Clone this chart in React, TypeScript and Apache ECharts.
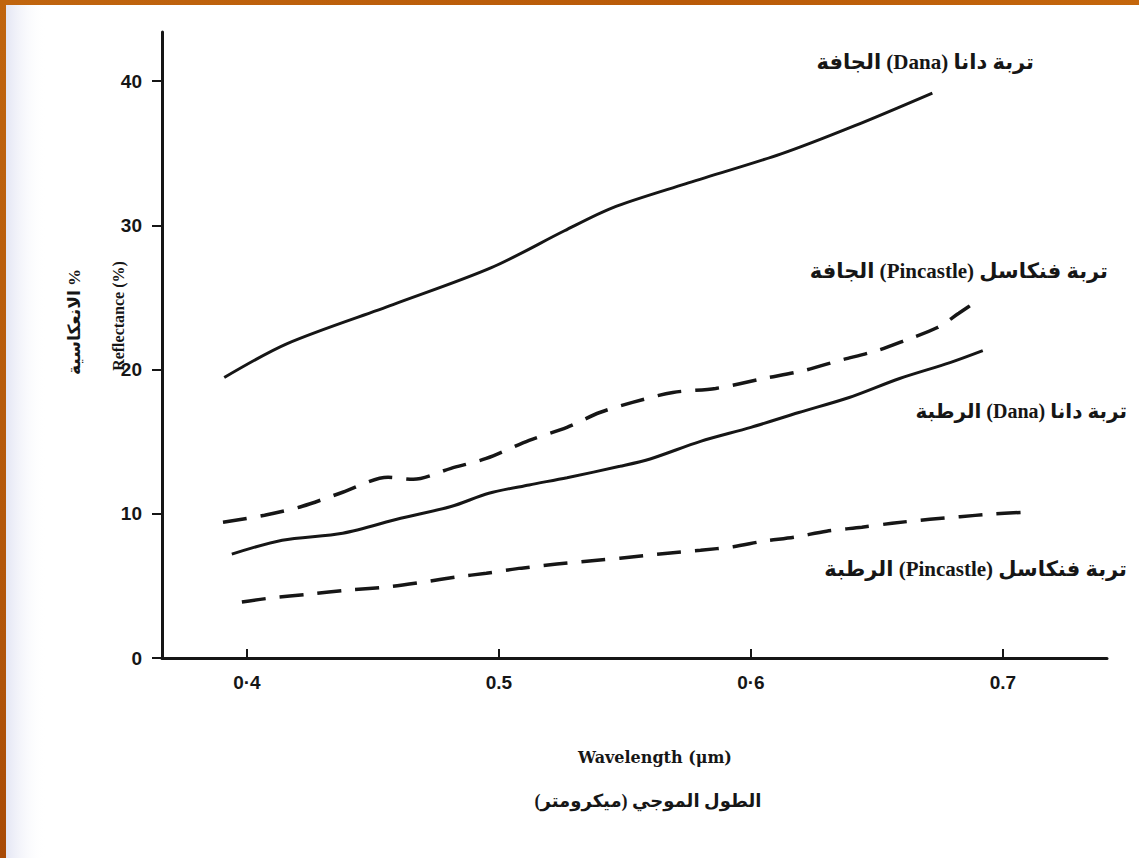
import React, { useEffect, useRef } from "react";
import * as echarts from "echarts";

// Spectral reflectance of dry and wet soils (Dana, Pincastle) vs wavelength
const wavelengthTicks = [0.4, 0.5, 0.6, 0.7];
const wavelengthTickLabels = ["0·4", "0.5", "0·6", "0.7"];
const reflectanceTicks = [0, 10, 20, 30, 40];

const danaDry: [number, number][] = [
  [0.391, 19.45], [0.416, 21.8], [0.458, 24.5], [0.497, 27.06], [0.526, 29.62],
  [0.545, 31.21], [0.574, 32.87], [0.612, 34.95], [0.641, 36.89], [0.672, 39.17],
];

const pincastleDry: [number, number][] = [
  [0.3905, 9.41], [0.407, 9.9], [0.422, 10.52], [0.438, 11.49], [0.456, 12.53],
  [0.466, 12.39], [0.481, 13.15], [0.495, 13.84], [0.512, 15.09], [0.527, 15.99],
  [0.540, 17.02], [0.553, 17.72], [0.569, 18.41], [0.586, 18.69], [0.605, 19.38],
  [0.621, 19.93], [0.635, 20.62], [0.650, 21.31], [0.661, 22.01], [0.674, 22.91],
  [0.6825, 23.9], [0.691, 24.9],
];

const danaWet: [number, number][] = [
  [0.394, 7.2], [0.414, 8.17], [0.438, 8.65], [0.461, 9.69], [0.481, 10.5],
  [0.496, 11.42], [0.512, 12.0], [0.527, 12.5], [0.548, 13.29], [0.560, 13.8],
  [0.580, 15.02], [0.600, 15.99], [0.619, 17.02], [0.639, 18.06], [0.659, 19.38],
  [0.679, 20.48], [0.692, 21.31],
];

const pincastleWet: [number, number][] = [
  [0.398, 3.88], [0.409, 4.15], [0.425, 4.43], [0.440, 4.71], [0.457, 4.95],
  [0.470, 5.26], [0.483, 5.61], [0.495, 5.88], [0.509, 6.23], [0.523, 6.51],
  [0.539, 6.78], [0.548, 6.92], [0.567, 7.27], [0.580, 7.47], [0.593, 7.72],
  [0.605, 8.1], [0.617, 8.37], [0.630, 8.79], [0.644, 9.07], [0.656, 9.34],
  [0.671, 9.62], [0.683, 9.8], [0.695, 9.97], [0.708, 10.1],
];

const seriesNames = [
  "تربة دانا (Dana) الجافة",
  "تربة فنكاسل (Pincastle) الجافة",
  "تربة دانا (Dana) الرطبة",
  "تربة فنكاسل (Pincastle) الرطبة",
];

const xAxisTitle = "Wavelength (μm)";
const xAxisTitleAr = "الطول الموجي (ميكرومتر)";
const yAxisTitle = "Reflectance (%)";
const yAxisTitleAr = "الانعكاسية %";

const RLE = "\u202B";
const PDF = "\u202C";
const rtl = (s: string) => RLE + s + PDF;

const INK = "#161616";
const LABEL_FONT = '"Liberation Serif", "DejaVu Sans", serif';
const TITLE_FONT = '"DejaVu Serif", "Liberation Serif", serif';
const TICK_FONT = '"Liberation Sans Narrow", "Liberation Sans", sans-serif';

export default function App() {
  const ref = useRef<HTMLDivElement>(null);

  useEffect(() => {
    if (!ref.current) return;
    const chart = echarts.init(ref.current, undefined, { renderer: "svg" });

    const lineSeries = (name: string, data: [number, number][], dashed: boolean) => ({
      name,
      type: "line",
      data,
      smooth: 0.3,
      showSymbol: false,
      silent: true,
      lineStyle: {
        color: INK,
        width: dashed ? 3.5 : 3,
        type: dashed ? [24, 14] : "solid",
        cap: "butt",
      },
    });

    const seriesLabel = (text: string, right: number, y: number, size: number) => ({
      type: "text",
      z: 10,
      style: {
        text: rtl(text),
        x: right,
        y,
        align: "right",
        verticalAlign: "middle",
        fill: INK,
        fontFamily: LABEL_FONT,
        fontWeight: "bold",
        fontSize: size,
      },
    });

    chart.setOption({
      animation: false,
      backgroundColor: "#ffffff",
      grid: { left: 162, right: 32, top: 32, bottom: 200, containLabel: false },
      xAxis: {
        type: "value",
        min: 0.3663,
        max: 0.7413,
        axisLine: { show: true, lineStyle: { color: INK, width: 3 } },
        axisTick: {
          show: true,
          inside: true,
          length: 9,
          customValues: wavelengthTicks,
          lineStyle: { color: INK, width: 2 },
        },
        axisLabel: {
          customValues: wavelengthTicks,
          margin: 15,
          color: INK,
          fontFamily: TICK_FONT,
          fontWeight: "bold",
          fontSize: 19,
          formatter: (v: number) => {
            const i = wavelengthTicks.findIndex((t) => Math.abs(t - v) < 1e-6);
            return i >= 0 ? wavelengthTickLabels[i] : "";
          },
        },
        splitLine: { show: false },
      },
      yAxis: {
        type: "value",
        min: 0,
        max: 43.4,
        axisLine: { show: true, lineStyle: { color: INK, width: 3 } },
        axisTick: {
          show: true,
          inside: false,
          length: 10,
          customValues: reflectanceTicks,
          lineStyle: { color: INK, width: 2 },
        },
        axisLabel: {
          customValues: reflectanceTicks,
          margin: 20,
          color: INK,
          fontFamily: TICK_FONT,
          fontWeight: "bold",
          fontSize: 19,
        },
        splitLine: { show: false },
      },
      series: [
        lineSeries(seriesNames[0], danaDry, false),
        lineSeries(seriesNames[1], pincastleDry, true),
        lineSeries(seriesNames[2], danaWet, false),
        lineSeries(seriesNames[3], pincastleWet, true),
      ],
      graphic: [
        // slide frame and faint paper tint on the left edge
        {
          type: "rect",
          z: -1,
          shape: { x: 6, y: 0, width: 40, height: 858 },
          style: {
            fill: {
              type: "linear", x: 0, y: 0, x2: 1, y2: 0,
              colorStops: [
                { offset: 0, color: "#e4e6f4" },
                { offset: 1, color: "rgba(255,255,255,0)" },
              ],
            },
          },
        },
        {
          type: "rect",
          z: 20,
          shape: { x: 0, y: 0, width: 1139, height: 5 },
          style: {
            fill: {
              type: "linear", x: 0, y: 0, x2: 1, y2: 0,
              colorStops: [
                { offset: 0, color: "#c0650f" },
                { offset: 0.6, color: "#b95a08" },
                { offset: 1, color: "#c4660c" },
              ],
            },
          },
        },
        {
          type: "rect",
          z: 20,
          shape: { x: 0, y: 0, width: 6, height: 858 },
          style: {
            fill: {
              type: "linear", x: 0, y: 0, x2: 0, y2: 1,
              colorStops: [
                { offset: 0, color: "#c0650f" },
                { offset: 0.8, color: "#b0540a" },
                { offset: 1, color: "#a84a06" },
              ],
            },
          },
        },
        seriesLabel(seriesNames[0], 1034, 62, 21),
        seriesLabel(seriesNames[1], 1108, 271, 21),
        seriesLabel(seriesNames[2], 1127, 411, 20),
        seriesLabel(seriesNames[3], 1127, 569, 21),
        {
          type: "text",
          x: 118,
          y: 316,
          rotation: Math.PI / 2,
          style: {
            text: yAxisTitle,
            x: 0,
            y: 0,
            align: "center",
            verticalAlign: "middle",
            fill: INK,
            fontFamily: LABEL_FONT,
            fontWeight: "bold",
            fontSize: 16,
          },
        },
        {
          type: "text",
          x: 74,
          y: 322,
          rotation: Math.PI / 2,
          style: {
            text: yAxisTitleAr,
            x: 0,
            y: 0,
            align: "center",
            verticalAlign: "middle",
            fill: INK,
            fontFamily: LABEL_FONT,
            fontWeight: "bold",
            fontSize: 17,
          },
        },
        {
          type: "text",
          style: {
            text: xAxisTitle,
            x: 655,
            y: 757,
            align: "center",
            verticalAlign: "middle",
            fill: INK,
            fontFamily: TITLE_FONT,
            fontWeight: "bold",
            fontSize: 16,
          },
        },
        {
          type: "text",
          style: {
            text: rtl(xAxisTitleAr),
            x: 648,
            y: 801,
            align: "center",
            verticalAlign: "middle",
            fill: INK,
            fontFamily: LABEL_FONT,
            fontWeight: "bold",
            fontSize: 18,
          },
        },
      ],
    });

    return () => chart.dispose();
  }, []);

  return (
    <div
      ref={ref}
      style={{ position: "absolute", left: 0, top: 0, width: 1139, height: 858 }}
    />
  );
}
